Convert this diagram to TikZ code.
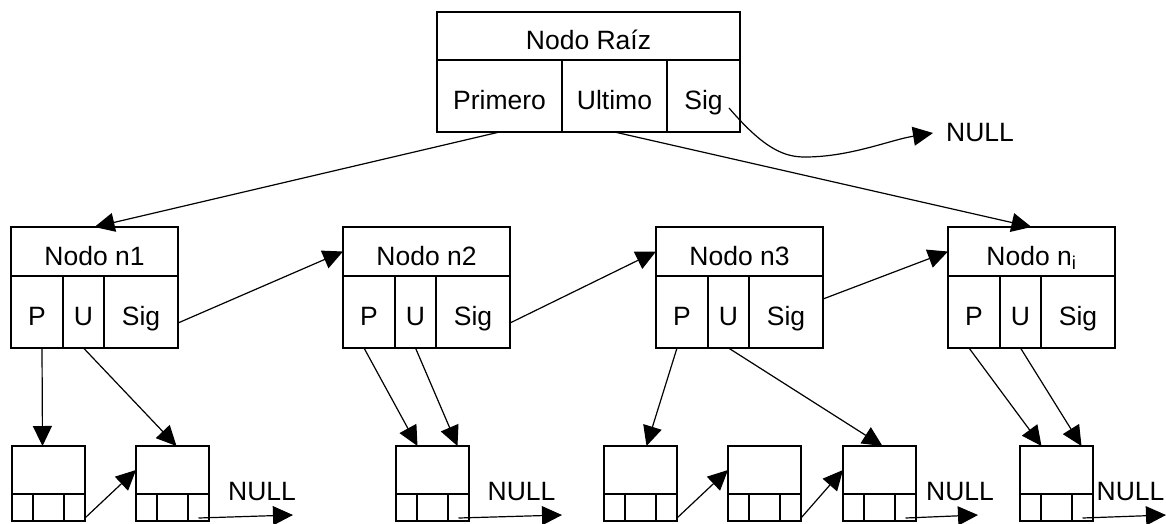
\documentclass[tikz,border=0pt]{standalone}
\usepackage{fontspec}
\setmainfont{Liberation Sans}
\usetikzlibrary{arrows.meta}

\begin{document}
\begin{tikzpicture}[
  x=1pt,
  y=-1pt,
  every node/.style={font=\fontsize{26.5}{31}\selectfont},
  cell/.style={draw,line width=1.4pt,inner sep=0pt,outer sep=0pt,
    anchor=north west,text height=27pt,text depth=0pt},
  link/.style={-{Triangle[length=20pt,width=19pt]},line width=1.2pt},
  nulltxt/.style={inner sep=0pt}
]
  \useasboundingbox (0,0) rectangle (1166,523);

  % Root record.
  \node[cell,minimum width=303pt,minimum height=48pt] (root-t) at (437,12)
    {Nodo Raíz};
  \node[cell,minimum width=125pt,minimum height=72pt] (root-p) at (437,60)
    {Primero};
  \node[cell,minimum width=105pt,minimum height=72pt] (root-u) at (562,60)
    {Ultimo};
  \node[cell,minimum width=73pt,minimum height=72pt] (root-s) at (667,60)
    {Sig};

  % Second level records.
  \foreach \n/\x/\lab in
    {n1/11/{Nodo n1},n2/343/{Nodo n2},n3/656/{Nodo n3},
     ni/948/{Nodo n\textsubscript{i}}}
    {
      \node[cell,minimum width=167pt,minimum height=49pt] (\n-t) at (\x,227)
        {\lab};
      \node[cell,minimum width=52pt,minimum height=72pt] (\n-p) at (\x,276)
        {P};
      \node[cell,minimum width=41pt,minimum height=72pt] (\n-u) at (\x+52,276)
        {U};
      \node[cell,minimum width=74pt,minimum height=72pt] (\n-s) at (\x+93,276)
        {Sig};
    }

  % List elements.
  \foreach \b/\x in
    {l11/12,l12/136,l21/396,l31/604,l32/728,l33/843,li1/1020}
    {
      \node[cell,minimum width=73pt,minimum height=48pt] (\b) at (\x,446) {};
      \node[cell,minimum width=21pt,minimum height=24pt] (\b-a) at (\x,494) {};
      \node[cell,minimum width=31pt,minimum height=24pt] (\b-b) at (\x+21,494) {};
      \node[cell,minimum width=21pt,minimum height=24pt] (\b-c) at (\x+52,494) {};
    }

  % NULL labels and free ends.
  \node[nulltxt] (null0) at (980,133) {NULL};
  \node[nulltxt] (null1) at (262,492) {NULL};
  \node[nulltxt] (null2) at (521.5,492) {NULL};
  \node[nulltxt] (null3) at (960,492) {NULL};
  \node[nulltxt] (null4) at (1130.5,492) {NULL};
  \coordinate (rsig) at (729,108);
  \coordinate (e0) at (933,133);
  \coordinate (e1) at (293,515);
  \coordinate (e2) at (562,515);
  \coordinate (e3) at (978,515);
  \coordinate (e4) at (1166,515);

  % Root links.
  \draw[link] (root-p.south) -- (n1-t.north);
  \draw[link] (root-u.south) -- (ni-t.north);
  \draw[link] (rsig) .. controls (765,150) and (785,157) .. (805,157)
    .. controls (850,157) and (890,140) .. (e0);

  % Sig links.
  \draw[link] ([yshift=-11pt]n1-s.east) -- (n2-t.west);
  \draw[link] ([yshift=-11pt]n2-s.east) -- (n3-t.west);
  \draw[link] ([yshift=13pt]n3-s.east) -- (ni-t.west);

  % First and last pointers.
  \draw[link] ([xshift=5pt]n1-p.south) -- ([xshift=-6pt]l11.north);
  \draw[link] (n1-u.south) -- ([xshift=4pt]l12.north);
  \draw[link] ([xshift=-5pt]n2-p.south) -- ([xshift=-15pt]l21.north);
  \draw[link] (n2-u.south) -- ([xshift=25pt]l21.north);
  \draw[link] ([xshift=-5pt]n3-p.south) -- ([xshift=6pt]l31.north);
  \draw[link] (n3-u.south) -- ([xshift=3pt]l33.north);
  \draw[link] ([xshift=-5pt]ni-p.south) -- ([xshift=-15pt]li1.north);
  \draw[link] (ni-u.south) -- ([xshift=25pt]li1.north);

  % List chains.
  \draw[link] ([yshift=3pt]l11-c.south east) -- (l12.west);
  \draw[link] ([yshift=3pt]l31-c.south east) -- (l32.west);
  \draw[link] ([yshift=3pt]l32-c.south east) -- (l33.west);
  \draw[link] ([yshift=3pt]l12-c.south) -- (e1);
  \draw[link] ([yshift=3pt]l21-c.south) -- (e2);
  \draw[link] ([yshift=3pt]l33-c.south) -- (e3);
  \draw[link] ([yshift=3pt]li1-c.south) -- (e4);
\end{tikzpicture}
\end{document}
